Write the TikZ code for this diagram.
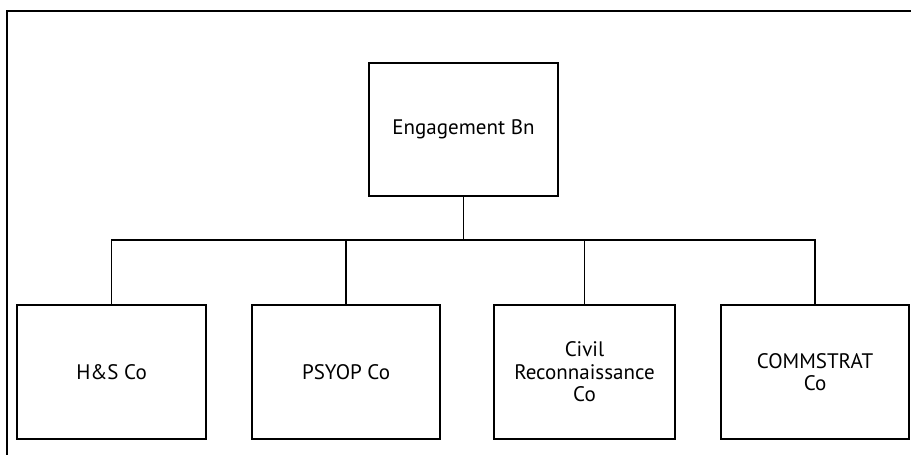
\documentclass[tikz,border=0pt]{standalone}
\usepackage{fontspec}
\setmainfont{PT Sans}
\begin{document}
\begin{tikzpicture}[x=1pt,y=-1pt,
  unitbox/.style={draw=black,line width=1.8pt,fill=white,inner sep=0pt,align=center,font=\fontsize{21}{22.5}\selectfont},
  link/.style={draw=black,line width=1.8pt}]
\useasboundingbox (0,0) rectangle (911,455);
\draw[line width=1.8pt] (7,460) -- (7,11) -- (915,11);
\node[unitbox,minimum width=189pt,minimum height=133pt] (bn) at (463.5,129.5) {Engagement Bn};
\node[unitbox,minimum width=189pt,minimum height=134pt] (hs) at (111.5,372) {H\&S Co};
\node[unitbox,minimum width=188pt,minimum height=134pt] (ps) at (346,372) {PSYOP Co};
\node[unitbox,minimum width=181pt,minimum height=134pt] (cr) at (584.5,372) {Civil\\Reconnaissance\\Co};
\node[unitbox,minimum width=188pt,minimum height=134pt] (cs) at (815,372) {COMMSTRAT\\Co};
\coordinate (bus) at (463.5,240);
\draw[link] (bn.south) -- (bus);
\draw[link] (hs.north) |- (bus) -| (cs.north);
\draw[link] (ps.north) -- (ps.north |- bus);
\draw[link] (cr.north) -- (cr.north |- bus);
\end{tikzpicture}
\end{document}
